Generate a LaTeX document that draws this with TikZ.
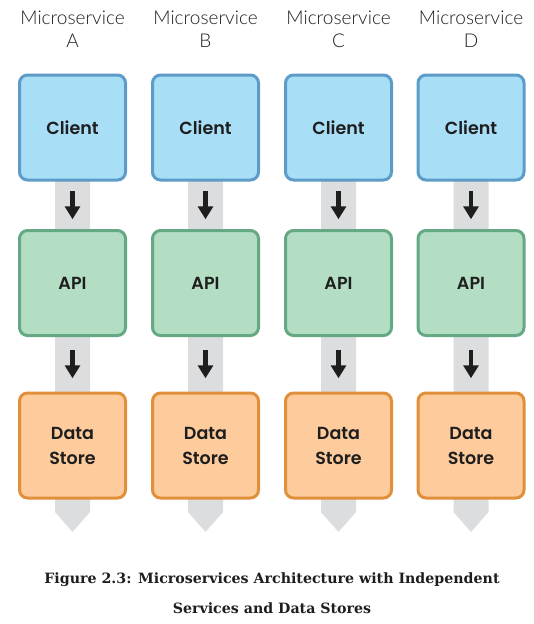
\documentclass[tikz,border=0pt]{standalone}
\usepackage{fontspec}
\usetikzlibrary{arrows.meta,calc,backgrounds}
\newfontfamily\hdrfont{Lato Light}
\newfontfamily\boxfont{Poppins SemiBold}
\newfontfamily\capfont{DejaVu Serif}
\definecolor{clientfill}{HTML}{A9DEF7}
\definecolor{clientline}{HTML}{5D9CC9}
\definecolor{apifill}{HTML}{B3DEC3}
\definecolor{apiline}{HTML}{65A884}
\definecolor{dsfill}{HTML}{FDCB9C}
\definecolor{dsline}{HTML}{E0903A}
\definecolor{bandgrey}{HTML}{DCDDDF}
\definecolor{ink}{HTML}{1E1E1E}
\tikzset{
  svcbox/.style={rectangle, rounded corners=8pt, line width=3pt, minimum width=106pt, minimum height=105pt, inner sep=0pt, align=center, font=\boxfont\fontsize{17.5}{25}\selectfont, text=ink},
  clientbox/.style={svcbox, draw=clientline, fill=clientfill},
  apibox/.style={svcbox, draw=apiline, fill=apifill},
  dsbox/.style={svcbox, draw=dsline, fill=dsfill},
  hdr/.style={align=center, font=\hdrfont\fontsize{19}{23}\selectfont, text=ink, inner sep=0pt},
  flowarrow/.style={draw=ink, line width=4.5pt, -{Triangle[width=15pt,length=13pt]}},
  band/.style={fill=bandgrey, draw=none},
  captext/.style={font=\capfont\bfseries\fontsize{14.2}{30}\selectfont, text=ink, align=center, inner sep=0pt}
}
\begin{document}
\begin{tikzpicture}[x=1pt,y=-1pt]
\useasboundingbox (0,0) rectangle (534,624);
\foreach \n/\cx/\L in {a/72.5/A, b/205.5/B, c/338.5/C, d/471/D} {
  \node[hdr] (h\n) at (\cx,29) {Microservice\\\L};
  \node[clientbox] (c\n) at (\cx,127.5) {Client};
  \node[apibox] (a\n) at (\cx,283) {API};
  \node[dsbox] (s\n) at (\cx,445.5) {Data\\Store};
  \coordinate (t\n) at (\cx,532);
  \begin{scope}[on background layer]
    \fill[band] ($(c\n.center)+(-17.5,0)$) -- ($(t\n)+(-17.5,-20)$) -- (t\n) -- ($(t\n)+(17.5,-20)$) -- ($(c\n.center)+(17.5,0)$) -- cycle;
  \end{scope}
  \draw[flowarrow] ($($(c\n.south)!0.5!(a\n.north)$)+(0,-14)$) -- ($($(c\n.south)!0.5!(a\n.north)$)+(0,14)$);
  \draw[flowarrow] ($($(a\n.south)!0.5!(s\n.north)$)+(0,-14)$) -- ($($(a\n.south)!0.5!(s\n.north)$)+(0,14)$);
}
\node[captext] (cap) at (272,593) {Figure 2.3: Microservices Architecture with Independent\\Services and Data Stores};
\end{tikzpicture}
\end{document}
